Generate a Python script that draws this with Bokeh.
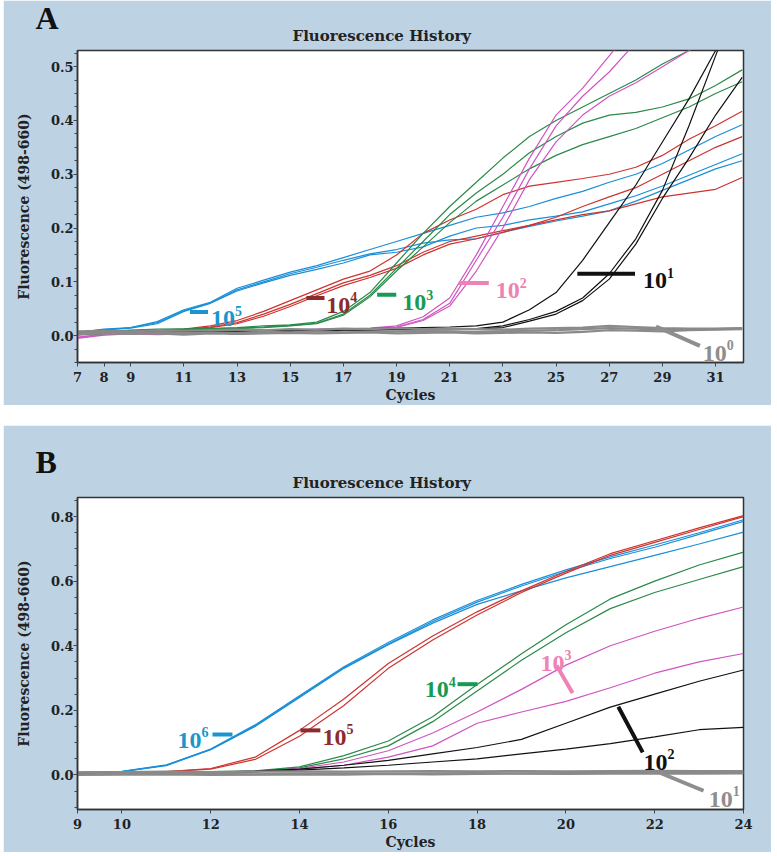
from bokeh.plotting import figure
from bokeh.layouts import column
from bokeh.models import Range1d, FixedTicker, PrintfTickFormatter, Title, Spacer, ColumnDataSource
from bokeh.core.properties import value
from bokeh.embed import file_html
from bokeh.resources import INLINE

# ================= DATA : panel A =================
CYCLES_A = list(range(7, 33))
A_E5 = [  # blue, 10^5
    [0.005, 0.010, 0.015, 0.026, 0.048, 0.062, 0.088, 0.103, 0.118, 0.130, 0.145, 0.160, 0.175, 0.190, 0.205, 0.220, 0.228, 0.240, 0.255, 0.268, 0.285, 0.300, 0.320, 0.345, 0.370, 0.392],
    [0.006, 0.011, 0.014, 0.022, 0.045, 0.060, 0.083, 0.098, 0.112, 0.123, 0.135, 0.150, 0.155, 0.165, 0.185, 0.200, 0.205, 0.215, 0.222, 0.230, 0.245, 0.260, 0.278, 0.298, 0.318, 0.338],
    [0.006, 0.012, 0.015, 0.024, 0.046, 0.061, 0.085, 0.100, 0.115, 0.127, 0.140, 0.152, 0.160, 0.172, 0.178, 0.180, 0.192, 0.203, 0.213, 0.222, 0.232, 0.250, 0.270, 0.290, 0.310, 0.325],
]
A_E4 = [  # red, 10^4
    [0.004, 0.006, 0.008, 0.010, 0.012, 0.018, 0.028, 0.045, 0.065, 0.085, 0.105, 0.120, 0.150, 0.190, 0.215, 0.235, 0.262, 0.278, 0.285, 0.292, 0.300, 0.313, 0.335, 0.365, 0.390, 0.417],
    [0.004, 0.006, 0.007, 0.009, 0.011, 0.016, 0.024, 0.040, 0.058, 0.078, 0.098, 0.112, 0.130, 0.155, 0.175, 0.185, 0.195, 0.205, 0.220, 0.240, 0.258, 0.275, 0.300, 0.325, 0.350, 0.370],
    [0.003, 0.005, 0.007, 0.009, 0.011, 0.015, 0.022, 0.036, 0.054, 0.074, 0.093, 0.108, 0.125, 0.150, 0.170, 0.180, 0.192, 0.205, 0.215, 0.225, 0.232, 0.245, 0.258, 0.265, 0.272, 0.294],
]
A_E3 = [  # green, 10^3
    [0.005, 0.008, 0.010, 0.012, 0.012, 0.013, 0.015, 0.018, 0.020, 0.025, 0.045, 0.080, 0.135, 0.190, 0.240, 0.285, 0.330, 0.370, 0.400, 0.425, 0.450, 0.475, 0.505, 0.530, 0.560, 0.590],
    [0.004, 0.007, 0.009, 0.011, 0.012, 0.013, 0.014, 0.016, 0.019, 0.023, 0.040, 0.075, 0.125, 0.175, 0.225, 0.265, 0.300, 0.340, 0.370, 0.395, 0.410, 0.415, 0.425, 0.440, 0.465, 0.494],
    [0.004, 0.007, 0.009, 0.010, 0.011, 0.012, 0.013, 0.015, 0.018, 0.022, 0.038, 0.072, 0.120, 0.165, 0.210, 0.250, 0.280, 0.310, 0.335, 0.355, 0.370, 0.385, 0.405, 0.425, 0.450, 0.472],
]
A_E2 = [  # pink, 10^2
    [-0.004, 0.002, 0.005, 0.004, 0.003, 0.006, 0.008, 0.010, 0.010, 0.012, 0.012, 0.014, 0.018, 0.035, 0.070, 0.150, 0.240, 0.330, 0.410, 0.460, 0.520, 0.580, 0.640, 0.700, 0.750, 0.800],
    [-0.003, 0.003, 0.004, 0.003, 0.004, 0.006, 0.007, 0.009, 0.010, 0.011, 0.012, 0.013, 0.016, 0.030, 0.060, 0.140, 0.220, 0.310, 0.390, 0.445, 0.490, 0.545, 0.610, 0.670, 0.720, 0.770],
    [-0.005, 0.001, 0.003, 0.002, 0.003, 0.005, 0.006, 0.008, 0.009, 0.010, 0.011, 0.012, 0.015, 0.028, 0.055, 0.120, 0.200, 0.290, 0.360, 0.410, 0.445, 0.470, 0.500, 0.530, 0.560, 0.590],
]
A_E1 = [  # black, 10^1
    [0.002, 0.005, 0.006, 0.006, 0.007, 0.008, 0.008, 0.009, 0.010, 0.011, 0.012, 0.013, 0.014, 0.015, 0.016, 0.018, 0.025, 0.048, 0.080, 0.140, 0.210, 0.280, 0.360, 0.440, 0.530, 0.600],
    [0.003, 0.004, 0.005, 0.006, 0.006, 0.007, 0.002, 0.007, 0.009, 0.010, 0.011, 0.011, 0.012, 0.012, 0.012, 0.013, 0.018, 0.030, 0.045, 0.070, 0.115, 0.180, 0.270, 0.390, 0.520, 0.650],
    [0.002, 0.004, 0.005, 0.005, 0.006, 0.006, 0.007, 0.008, 0.008, 0.009, 0.010, 0.010, 0.011, 0.011, 0.011, 0.012, 0.015, 0.027, 0.040, 0.065, 0.105, 0.170, 0.255, 0.330, 0.410, 0.480],
]
A_E0 = [  # grey, 10^0
    [0.008, 0.009, 0.008, 0.010, 0.009, 0.010, 0.011, 0.010, 0.012, 0.011, 0.013, 0.012, 0.014, 0.012, 0.013, 0.012, 0.011, 0.013, 0.014, 0.015, 0.018, 0.016, 0.014, 0.013, 0.013, 0.014],
    [0.004, 0.006, 0.005, 0.006, 0.005, 0.006, 0.005, 0.007, 0.006, 0.008, 0.006, 0.007, 0.008, 0.009, 0.008, 0.007, 0.008, 0.009, 0.010, 0.012, 0.014, 0.013, 0.011, 0.012, 0.012, 0.013],
    [0.002, 0.004, 0.003, 0.004, 0.002, 0.004, 0.003, 0.004, 0.005, 0.004, 0.005, 0.006, 0.004, 0.005, 0.006, 0.004, 0.005, 0.006, 0.005, 0.007, 0.010, 0.009, 0.008, 0.010, 0.011, 0.012],
]
A_XTICKS = [7, 8, 9, 11, 13, 15, 17, 19, 21, 23, 25, 27, 29, 31]
A_YTICKS = [0.0, 0.1, 0.2, 0.3, 0.4, 0.5]
A_EXPONENTS = ["5", "4", "3", "2", "1", "0"]

# ================= DATA : panel B =================
CYCLES_B = list(range(9, 25))
B_E6 = [  # blue, 10^6
    [0.008, 0.010, 0.030, 0.080, 0.155, 0.245, 0.335, 0.410, 0.480, 0.540, 0.590, 0.635, 0.675, 0.712, 0.750, 0.790],
    [0.008, 0.011, 0.031, 0.079, 0.152, 0.242, 0.332, 0.405, 0.475, 0.535, 0.585, 0.630, 0.670, 0.705, 0.745, 0.785],
    [0.007, 0.010, 0.029, 0.078, 0.150, 0.240, 0.330, 0.403, 0.470, 0.528, 0.570, 0.610, 0.645, 0.680, 0.715, 0.752],
]
B_E5 = [  # red, 10^5
    [0.006, 0.008, 0.010, 0.020, 0.055, 0.138, 0.235, 0.345, 0.430, 0.505, 0.570, 0.630, 0.685, 0.725, 0.765, 0.803],
    [0.006, 0.008, 0.010, 0.018, 0.048, 0.120, 0.215, 0.330, 0.418, 0.495, 0.565, 0.625, 0.680, 0.720, 0.760, 0.800],
]
B_E4 = [  # green, 10^4
    [0.006, 0.007, 0.008, 0.010, 0.013, 0.025, 0.060, 0.105, 0.180, 0.280, 0.375, 0.465, 0.545, 0.600, 0.650, 0.690],
    [0.005, 0.006, 0.007, 0.009, 0.012, 0.022, 0.050, 0.090, 0.165, 0.260, 0.355, 0.440, 0.515, 0.565, 0.605, 0.645],
]
B_E3 = [  # pink, 10^3
    [0.004, 0.005, 0.006, 0.008, 0.010, 0.020, 0.040, 0.075, 0.130, 0.195, 0.265, 0.340, 0.400, 0.445, 0.485, 0.520],
    [0.003, 0.004, 0.005, 0.007, 0.009, 0.018, 0.030, 0.055, 0.090, 0.160, 0.195, 0.228, 0.270, 0.315, 0.350, 0.376],
]
B_E2 = [  # black, 10^2
    [0.004, 0.005, 0.006, 0.008, 0.012, 0.018, 0.030, 0.045, 0.065, 0.085, 0.110, 0.160, 0.210, 0.250, 0.290, 0.325],
    [0.003, 0.004, 0.005, 0.006, 0.010, 0.015, 0.022, 0.030, 0.040, 0.050, 0.065, 0.080, 0.097, 0.118, 0.140, 0.147],
]
B_E1 = [  # grey, 10^1
    [0.008, 0.009, 0.010, 0.009, 0.010, 0.011, 0.010, 0.011, 0.012, 0.011, 0.012, 0.011, 0.012, 0.013, 0.012, 0.012],
    [0.002, 0.003, 0.004, 0.003, 0.002, 0.004, 0.005, 0.004, 0.005, 0.006, 0.005, 0.006, 0.007, 0.006, 0.007, 0.007],
    [0.000, 0.001, 0.002, 0.000, 0.001, 0.002, 0.001, 0.003, 0.002, 0.003, 0.004, 0.003, 0.004, 0.005, 0.004, 0.005],
]
B_XTICKS = [9, 10, 12, 14, 16, 18, 20, 22, 24]
B_YTICKS = [0.0, 0.2, 0.4, 0.6, 0.8]
B_EXPONENTS = ["6", "5", "4", "3", "2", "1"]

# ================= STYLE / ANNOTATION PLACEMENT =================
BG = "#bdd3e4"
C_BLUE, C_RED, C_GREEN, C_PINK, C_BLACK, C_GREY = "#1a8fd8", "#cc3430", "#2a8a48", "#d055c0", "#111111", "#8a8a8a"
T_BLUE, T_RED, T_GREEN, T_PINK, T_BLACK, T_GREY = "#1a96cc", "#8b2b2b", "#169a55", "#ee82b4", "#111111", "#8e8e8e"
SERIF = "DejaVu Serif"
NUMFONT = "Liberation Serif"

A_ANN = dict(
    x0=[11.23, 15.61, 18.27, 21.34, 25.80, 28.76], y0=[0.044, 0.070, 0.076, 0.098, 0.115, 0.017],
    x1=[11.91, 16.29, 18.99, 22.47, 27.97, 30.41], y1=[0.044, 0.070, 0.076, 0.098, 0.115, -0.019],
    tx=[12.02, 16.36, 19.21, 22.73, 28.27, 30.52], ty=[0.031, 0.056, 0.061, 0.083, 0.102, -0.033],
    color=[T_BLUE, T_RED, T_GREEN, T_PINK, T_BLACK, T_GREY], exp=A_EXPONENTS,
)
B_ANN = dict(
    x0=[12.04, 14.02, 17.56, 19.79, 21.18, 22.13], y0=[0.125, 0.138, 0.281, 0.339, 0.211, 0.006],
    x1=[12.49, 14.47, 18.01, 20.15, 21.73, 23.10], y1=[0.125, 0.138, 0.281, 0.254, 0.070, -0.049],
    tx=[11.25, 14.52, 16.82, 19.43, 21.75, 23.22], ty=[0.107, 0.116, 0.263, 0.346, 0.040, -0.076],
    color=[T_BLUE, T_RED, T_GREEN, T_PINK, T_BLACK, T_GREY], exp=B_EXPONENTS,
)


def make_panel(letter, letter_standoff, width, height, xr, yr, xticks, yticks, yminor,
               borders, groups, cycles, ann):
    top, bottom, right = borders
    p = figure(width=width, height=height, x_range=Range1d(*xr), y_range=Range1d(*yr),
               output_backend="svg", toolbar_location=None, title_location=None,
               min_border_left=74, min_border_right=right, min_border_top=top, min_border_bottom=bottom)
    p.border_fill_color = BG
    p.background_fill_color = "white"
    p.outline_line_color = "#333333"
    p.outline_line_width = 1.5
    p.grid.visible = False

    # chart title (closest to the frame) and the panel letter (stacked outward)
    p.add_layout(Title(text="Fluorescence History", align="left", offset=215, standoff=12,
                       text_font=SERIF, text_font_style="bold", text_font_size="15px",
                       text_color="#222222"), "above")
    p.add_layout(Title(text=letter, align="left", offset=-42, standoff=letter_standoff,
                       text_font=NUMFONT, text_font_style="bold", text_font_size="32px",
                       text_color="#111111"), "above")

    p.xaxis.ticker = FixedTicker(ticks=xticks, minor_ticks=[])
    p.yaxis.ticker = FixedTicker(ticks=yticks, minor_ticks=yminor)
    p.yaxis.formatter = PrintfTickFormatter(format="%.1f")
    p.xaxis.axis_label = "Cycles"
    p.yaxis.axis_label = "Fluorescence (498-660)"
    for ax in (p.xaxis, p.yaxis):
        ax.axis_line_color = "#333333"
        ax.axis_line_width = 1.5
        ax.major_tick_line_color = "#444444"
        ax.minor_tick_line_color = "#444444"
        ax.major_tick_in = 0
        ax.major_tick_out = 4
        ax.minor_tick_in = 0
        ax.minor_tick_out = 3
        ax.major_label_text_font = SERIF
        ax.major_label_text_font_style = "bold"
        ax.major_label_text_font_size = "13px"
        ax.major_label_text_color = "#222222"
        ax.axis_label_text_font = SERIF
        ax.axis_label_text_font_style = "bold"
        ax.axis_label_text_font_size = "14px"
        ax.axis_label_text_color = "#222222"
    p.xaxis.major_label_standoff = 5
    p.xaxis.axis_label_standoff = 2
    p.yaxis.major_label_standoff = 0
    p.yaxis.axis_label_standoff = 16

    for group, color, lw in groups:
        for ys in group:
            p.line(cycles, ys, line_color=color, line_width=lw)

    src = ColumnDataSource(ann)
    p.segment(x0="x0", y0="y0", x1="x1", y1="y1", source=src, line_color="color", line_width=4)
    p.text(x="tx", y="ty", text=value("10"), source=src, text_color="color",
           text_font=value(NUMFONT), text_font_style="bold", text_font_size="24px",
           text_baseline="alphabetic", text_align="left")
    p.text(x="tx", y="ty", text="exp", source=src, text_color="color",
           text_font=value(NUMFONT), text_font_style="bold", text_font_size="14px",
           text_baseline="alphabetic", text_align="left", x_offset=24, y_offset=-8)
    return p


pA = make_panel("A", -35, 768, 405, (7, 32.05), (-0.05, 0.53), A_XTICKS, A_YTICKS,
                [round(-0.05 + 0.025 * i, 3) for i in range(24) if i % 4 != 2],
                (50, 41, 25),
                [(A_E5, C_BLUE, 1.2), (A_E4, C_RED, 1.2), (A_E3, C_GREEN, 1.2),
                 (A_E2, C_PINK, 1.2), (A_E1, C_BLACK, 1.2), (A_E0, C_GREY, 2.2)],
                CYCLES_A, A_ANN)
pA.margin = (0, 0, 0, 3)

pB = make_panel("B", -28, 768, 427, (9, 24), (-0.107, 0.859), B_XTICKS, B_YTICKS,
                [round(-0.1 + 0.05 * i, 3) for i in range(20) if i % 4 != 2],
                (72, 39, 28),
                [(B_E6, C_BLUE, 1.2), (B_E5, C_RED, 1.2), (B_E4, C_GREEN, 1.2),
                 (B_E3, C_PINK, 1.2), (B_E2, C_BLACK, 1.2), (B_E1, C_GREY, 2.2)],
                CYCLES_B, B_ANN)
pB.margin = (0, 0, 0, 3)

layout = column(pA, Spacer(height=20), pB)
open("out.html", "w").write(file_html(layout, INLINE))
